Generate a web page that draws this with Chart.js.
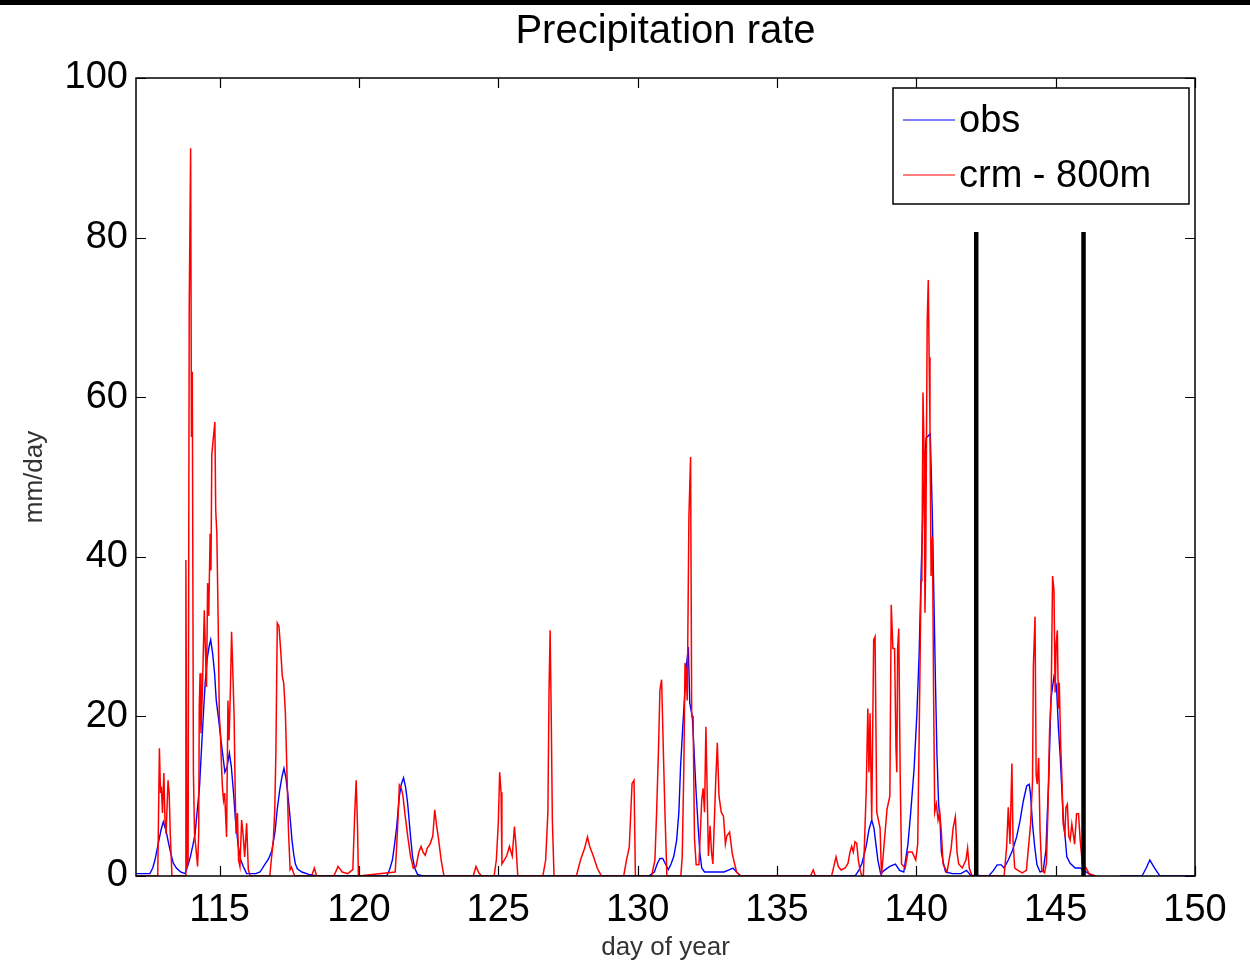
<!DOCTYPE html>
<html>
<head>
<meta charset="utf-8">
<script src="https://cdn.jsdelivr.net/npm/chart.js@4.4.1/dist/chart.umd.min.js"></script>
<style>
  html, body { margin: 0; padding: 0; background: #ffffff; }
  #wrap { width: 1250px; height: 965px; position: relative; }
</style>
</head>
<body>
<div id="wrap"><canvas id="c" width="1250" height="965"></canvas></div>
<script>
// ---------------- data ----------------
const chartTitle = "Precipitation rate";
const xTitle = "day of year";
const yTitle = "mm/day";
const seriesNames = ["obs", "crm - 800m"];
const xTicks = [115, 120, 125, 130, 135, 140, 145, 150];
const yTicks = [0, 20, 40, 60, 80, 100];
const markerDays = [142.15, 146.0];
const markerTop = 80.7;

const obsDay = [112.0,112.5,112.6,112.68,112.8,112.9,112.98,113.05,113.1,113.17,113.25,113.34,113.45,113.6,113.76,113.85,113.95,114.05,114.12,114.2,114.28,114.36,114.42,114.48,114.55,114.62,114.68,114.75,114.82,114.88,114.97,115.05,115.12,115.19,115.27,115.35,115.42,115.5,115.57,115.67,115.76,115.85,115.97,116.3,116.45,116.63,116.75,116.87,116.99,117.06,117.15,117.23,117.31,117.38,117.45,117.53,117.6,117.66,117.72,117.79,117.95,118.2,118.5,121.0,121.1,121.2,121.28,121.35,121.45,121.52,121.6,121.68,121.75,121.8,121.85,121.92,122.0,122.1,122.3,130.4,130.6,130.7,130.8,130.9,131.0,131.1,131.2,131.3,131.4,131.48,131.54,131.62,131.7,131.76,131.82,131.87,131.96,132.02,132.1,132.17,132.23,132.3,132.4,133.1,133.3,133.42,133.55,133.7,137.8,137.86,137.95,138.05,138.2,138.3,138.4,138.48,138.55,138.62,138.72,138.85,139.05,139.25,139.4,139.55,139.7,139.8,139.92,140.02,140.1,140.17,140.25,140.35,140.5,140.57,140.63,140.69,140.74,140.8,140.85,140.9,140.98,141.05,141.3,141.6,141.8,141.95,142.6,142.77,142.9,143.05,143.15,143.3,143.45,143.6,143.72,143.84,143.96,144.05,144.1,144.17,144.25,144.33,144.44,144.55,144.65,144.7,144.75,144.79,144.83,144.94,145.03,145.1,145.16,145.22,145.28,145.33,145.4,145.52,145.7,145.88,146.1,146.3,146.7,147.3,148.1,148.25,148.38,148.55,148.74,150.0];
const obsRate = [0.3,0.3,1.0,2.0,4.1,5.8,6.8,6.0,5.3,4.1,2.8,1.6,1.0,0.5,0.3,1.2,2.4,4.0,5.3,8.3,11.2,16.6,20.4,24.1,27.1,28.7,29.6,27.9,25.4,22.0,19.5,17.0,15.0,13.0,13.7,15.4,13.7,10.4,7.0,3.7,2.0,1.2,0.3,0.3,0.5,1.5,2.1,3.1,5.6,8.1,10.6,12.3,13.5,12.3,10.2,7.3,4.4,2.7,1.5,0.9,0.5,0.2,0,0,0.8,2,4,6,10,11.5,12.3,11,9,7,5,2.5,1,0.2,0,0,0.5,1.5,2.2,2.2,1.5,0.8,1.5,2.5,4.5,8,13.7,18.7,23.3,26.7,28.7,21.7,20,16,10.4,6.3,3,1,0.5,0.5,0.8,1.0,0.5,0,0,0.3,0.8,1.6,3.7,5.8,7,6,4,2,0.3,0.7,1.2,1.5,0.7,0.5,4,8,13.4,20.3,27.7,37.6,47.5,54.9,55.4,46,35,23.8,15.3,9,7,3,1.5,0.5,0.3,0.3,0.7,0.1,0,0.7,1.4,1.4,1.0,2.0,3.2,4.9,6.9,9.4,11.3,11.5,10.2,6.5,3.6,1.4,0.5,0.6,3.2,7.8,11.9,16.8,22.2,25.0,23.8,18.5,15.2,11.0,6.9,5.3,2.4,1.6,1.0,1.0,0.5,0,null,0,0,1.0,2.0,1.0,0,0];

const crmDay = [112.0,112.78,112.84,112.88,112.91,112.95,113.0,113.04,113.08,113.15,113.19,113.23,113.29,113.76,113.79,113.83,113.87,113.91,113.96,113.99,114.02,114.06,114.1,114.18,114.21,114.25,114.27,114.3,114.33,114.38,114.45,114.49,114.53,114.57,114.61,114.66,114.69,114.72,114.76,114.83,114.86,114.9,114.95,114.99,115.03,115.06,115.1,115.14,115.18,115.25,115.3,115.34,115.39,115.43,115.47,115.52,115.56,115.59,115.64,115.68,115.73,115.79,115.84,115.9,115.97,116.03,116.1,116.8,116.87,116.93,116.98,117.02,117.07,117.13,117.19,117.25,117.3,117.36,117.42,117.47,117.53,117.58,117.65,117.7,118.3,118.4,118.48,119.1,119.25,119.4,119.6,119.78,119.85,119.9,119.95,119.98,121.3,121.35,121.4,121.45,121.52,121.58,121.66,121.75,121.85,121.95,122.05,122.15,122.23,122.3,122.38,122.45,122.55,122.65,122.72,122.78,122.85,122.95,123.05,124.1,124.2,124.3,124.4,124.85,124.93,125.0,125.05,125.1,125.13,125.3,125.4,125.5,125.58,125.63,125.7,126.6,126.7,126.78,126.82,126.86,126.9,126.94,127.0,127.8,127.95,128.1,128.2,128.28,128.4,128.55,128.7,129.5,129.6,129.7,129.8,129.87,129.92,130.5,130.62,130.68,130.75,130.8,130.86,130.92,130.98,131.05,131.55,131.6,131.66,131.7,131.74,131.78,131.84,131.9,131.94,131.99,132.04,132.1,132.2,132.3,132.35,132.4,132.45,132.5,132.54,132.6,132.65,132.7,132.8,132.86,132.92,133.0,133.08,133.15,133.2,133.3,133.4,133.55,133.7,136.2,136.3,136.38,136.96,137.04,137.12,137.2,137.3,137.45,137.55,137.62,137.68,137.74,137.8,137.86,137.92,137.98,138.05,138.1,138.2,138.26,138.3,138.34,138.4,138.47,138.52,138.58,138.64,138.7,138.75,138.95,139.05,139.1,139.16,139.22,139.27,139.3,139.33,139.37,139.42,139.47,139.6,139.7,139.85,139.98,140.05,140.1,140.17,140.2,140.24,140.28,140.31,140.34,140.39,140.43,140.46,140.49,140.53,140.58,140.62,140.66,140.72,140.78,140.84,140.9,140.96,141.1,141.25,141.32,141.4,141.46,141.52,141.65,141.78,141.84,141.9,142.0,143.15,143.24,143.3,143.36,143.43,143.47,143.53,143.65,143.8,143.95,144.1,144.17,144.2,144.26,144.3,144.34,144.39,144.44,144.5,144.6,144.67,144.72,144.78,144.84,144.89,144.94,144.98,145.02,145.06,145.1,145.13,145.18,145.22,145.27,145.33,145.37,145.42,145.47,145.52,145.58,145.63,145.68,145.75,145.82,145.88,145.96,146.09,146.2,146.45];
const crmRate = [0,0,16,10.4,11.2,7.9,12.9,7,5.3,12,10.4,5.3,0,0,39.6,1.0,2.0,71.2,91.2,55,63.2,12.9,5.3,2.4,1.2,5.3,21.2,25.4,17.9,22.9,33.3,28.3,23.7,36.7,32.6,42.9,38.3,52.8,54.3,56.9,45.9,43,31.7,20,17.9,14.5,11.2,9.5,10.4,4.9,22,17,23.7,30.6,26.2,20,10.4,5.3,7.9,2,1.2,7,5.3,2.4,6.6,0.8,0,0,2.5,4.6,8.4,15.5,31.7,31.3,28.4,25,24.2,20.5,12.5,5.8,0.8,1.1,0.4,0,0,1.0,0,0,1.2,0.5,0.3,0.8,8,12,6,0,0.5,3.5,7,11.4,11.0,10,7.5,5,2.5,1,1.2,3.0,3.7,3.0,2.6,3.5,4.0,5.0,8.3,6.5,4.8,2,0,0,1.2,0.4,0,0,2,6.6,13,10.5,1.5,2.5,3.7,2.5,6.2,4,0,0,2,8,23,30.8,20,7,0,0,2,3.5,4.9,3.7,2.6,1,0,0,2,3.6,11.6,12,0,0,2,7.9,16,23.3,24.6,16,8,0,0,2.4,14,26.7,25.8,22,45,52.5,20,20,4.7,1.4,1.4,9.5,11,8,18.7,9.6,2.5,6.3,3,1.5,11.7,16.7,10,8,7.5,4,5,5.5,2.7,0.5,0,0,0.75,0,0,1.2,2.4,1.2,0.75,1,1.6,3,3.7,3,4.3,4.1,2,0.75,0,0,10.4,21,13,20.4,7,29.6,30,8,7,6,0,8.4,10,34,28.5,28.5,16,13,28.5,31,13,1.5,1,3,3,2,4,17,37,37.6,60.6,53,33,40,69.3,74.7,65,56.4,37.6,42.5,22.8,8,9,7,8,5.4,1.5,0.5,3.5,6,7.4,3,1.5,1,2,3.5,1,0,0,3.6,8.6,4,14.1,4.5,1,0.7,0.4,0.7,6.5,11.9,26.3,32.5,12.7,11.5,14.8,5.7,0.7,0.4,1.6,7.8,18,22.6,37.6,35.8,23,29.2,30.8,21,24.2,16.4,12.7,6.5,5.3,8.6,9,5,4.5,6.5,5.3,4,7.8,7.8,4.5,1.5,1,0.3,0];

// ---------------- chart ----------------
const FONT = "'Liberation Sans', Arial, Helvetica, sans-serif";
const toPts = (xs, ys) => xs.map((x, i) => ({ x: x, y: ys[i] }));

const datasets = [
  { label: seriesNames[0], data: toPts(obsDay, obsRate), borderColor: '#0000ff', borderWidth: 1.4, pointRadius: 0, tension: 0, spanGaps: false, order: 3 },
  { label: seriesNames[1], data: toPts(crmDay, crmRate), borderColor: '#ff0000', borderWidth: 1.5, pointRadius: 0, tension: 0, order: 2 }
];
markerDays.forEach(d => {
  datasets.push({ label: '_marker', data: [{ x: d, y: 0 }, { x: d, y: markerTop }], borderColor: '#000000', borderWidth: 4.5, pointRadius: 0, order: 1, borderCapStyle: 'butt' });
});

const framePlugin = {
  id: 'frame',
  beforeDraw(chart) {
    const ctx = chart.ctx;
    ctx.save();
    ctx.fillStyle = '#ffffff';
    ctx.fillRect(0, 0, chart.width, chart.height);
    ctx.fillStyle = '#000000';
    ctx.fillRect(0, 0, chart.width, 5);
    ctx.restore();
  },
  afterDraw(chart) {
    const ctx = chart.ctx;
    const a = chart.chartArea;
    const xs = chart.scales.x, ys = chart.scales.y;
    ctx.save();
    ctx.strokeStyle = '#000000';
    ctx.lineWidth = 1.5;
    ctx.strokeRect(a.left, a.top, a.right - a.left, a.bottom - a.top);
    const tl = 10;
    ctx.beginPath();
    xTicks.forEach(v => {
      const px = Math.round(xs.getPixelForValue(v)) + 0.5;
      ctx.moveTo(px, a.bottom); ctx.lineTo(px, a.bottom - tl);
      ctx.moveTo(px, a.top); ctx.lineTo(px, a.top + tl);
    });
    yTicks.forEach(v => {
      const py = Math.round(ys.getPixelForValue(v)) + 0.5;
      ctx.moveTo(a.left, py); ctx.lineTo(a.left + tl, py);
      ctx.moveTo(a.right, py); ctx.lineTo(a.right - tl, py);
    });
    ctx.lineWidth = 1.2;
    ctx.stroke();

    // legend box (inside the axes, upper right)
    const bw = 296, bh = 116;
    const bx = a.right - 6 - bw, by = a.top + 10;
    ctx.fillStyle = '#ffffff';
    ctx.fillRect(bx, by, bw, bh);
    ctx.lineWidth = 1.5;
    ctx.strokeStyle = '#000000';
    ctx.strokeRect(bx, by, bw, bh);
    const rows = [by + 32, by + 87];
    ctx.font = '38px ' + FONT;
    ctx.textBaseline = 'middle';
    ctx.textAlign = 'left';
    [0, 1].forEach(i => {
      const ds = chart.data.datasets[i];
      ctx.strokeStyle = ds.borderColor;
      ctx.lineWidth = 1.2;
      ctx.beginPath();
      ctx.moveTo(bx + 10, rows[i]); ctx.lineTo(bx + 62, rows[i]);
      ctx.stroke();
      ctx.fillStyle = '#000000';
      ctx.fillText(ds.label, bx + 66, rows[i] + 2);
    });
    ctx.restore();
  }
};

new Chart(document.getElementById('c'), {
  type: 'line',
  data: { datasets: datasets },
  plugins: [framePlugin],
  options: {
    responsive: false,
    animation: false,
    devicePixelRatio: 1,
    layout: { padding: { left: 0, right: 55, top: 0, bottom: 0 } },
    plugins: {
      legend: { display: false },
      tooltip: { enabled: false },
      title: {
        display: true, fullSize: false, text: chartTitle, color: '#000000',
        font: { family: FONT, size: 40, weight: 'normal' },
        padding: { top: 8, bottom: 22 }
      }
    },
    scales: {
      x: {
        type: 'linear', min: 112, max: 150,
        afterBuildTicks: s => { s.ticks = xTicks.map(v => ({ value: v })); },
        afterFit: s => { s.height = 89; },
        grid: { display: false, drawTicks: false },
        border: { display: false },
        ticks: { color: '#000000', padding: 12, maxRotation: 0, font: { family: FONT, size: 38 } },
        title: { display: true, text: xTitle, color: '#333333', font: { family: FONT, size: 26 }, padding: { top: 0, bottom: 2 } }
      },
      y: {
        type: 'linear', min: 0, max: 100,
        afterBuildTicks: s => { s.ticks = yTicks.map(v => ({ value: v })); },
        afterFit: s => { s.width = 136; },
        grid: { display: false, drawTicks: false },
        border: { display: false },
        ticks: { color: '#000000', padding: 8, font: { family: FONT, size: 38 } },
        title: { display: true, text: yTitle, color: '#333333', font: { family: FONT, size: 26 }, padding: { top: 19, bottom: 0 } }
      }
    }
  }
});
</script>
</body>
</html>
